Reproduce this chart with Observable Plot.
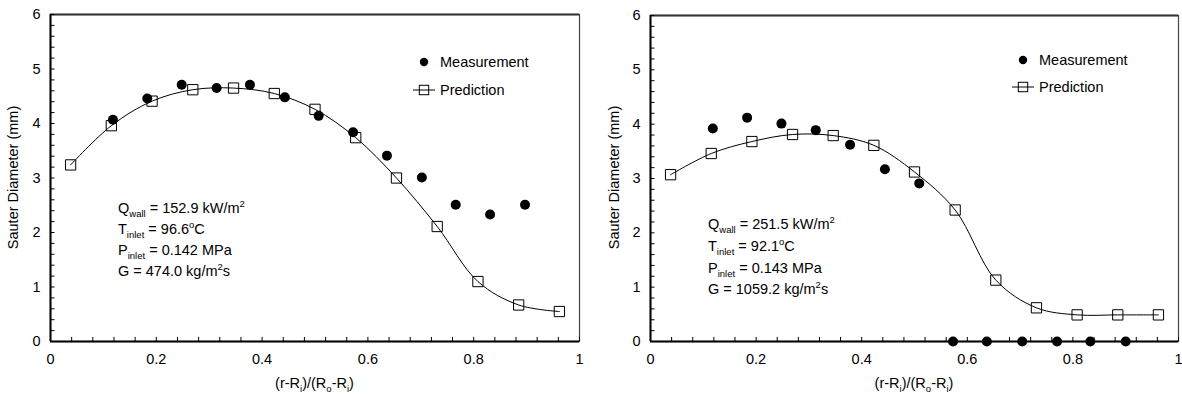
<!DOCTYPE html>
<html>
<head>
<meta charset="utf-8">
<script src="https://cdn.jsdelivr.net/npm/d3@7"></script>
<script src="https://cdn.jsdelivr.net/npm/@observablehq/plot@0.6"></script>
<style>
  html, body { margin: 0; padding: 0; background: white; }
  #wrap { display: flex; width: 1182px; height: 398px; }
  svg text { font-family: "Liberation Sans", Arial, sans-serif; }
</style>
</head>
<body>
<div id="wrap"></div>
<script>
// ---- data ----
const xMajor = [0, 0.2, 0.4, 0.6, 0.8, 1];
const xMinor = [0,0.04,0.08,0.12,0.16,0.2,0.24,0.28,0.32,0.36,0.4,0.44,0.48,0.52,0.56,0.6,0.64,0.68,0.72,0.76,0.8,0.84,0.88,0.92,0.96,1];
const yMajor = [0, 1, 2, 3, 4, 5, 6];
const yMinor = [0,0.2,0.4,0.6,0.8,1,1.2,1.4,1.6,1.8,2,2.2,2.4,2.6,2.8,3,3.2,3.4,3.6,3.8,4,4.2,4.4,4.6,4.8,5,5.2,5.4,5.6,5.8,6];

const predX = [0.038, 0.115, 0.192, 0.269, 0.346, 0.423, 0.500, 0.577, 0.654, 0.731, 0.808, 0.885, 0.962];

const leftPredY = [3.24, 3.96, 4.41, 4.62, 4.65, 4.55, 4.26, 3.74, 3.00, 2.11, 1.10, 0.67, 0.55];
const leftMeasX = [0.118, 0.183, 0.248, 0.314, 0.377, 0.443, 0.507, 0.572, 0.636, 0.702, 0.766, 0.831, 0.897];
const leftMeasY = [4.07, 4.46, 4.71, 4.65, 4.71, 4.48, 4.14, 3.84, 3.41, 3.01, 2.51, 2.33, 2.51];

const rightPredY = [3.07, 3.46, 3.68, 3.81, 3.79, 3.61, 3.12, 2.42, 1.13, 0.62, 0.49, 0.49, 0.49];
const rightMeasX = [0.118, 0.183, 0.248, 0.313, 0.378, 0.444, 0.509, 0.573, 0.637, 0.704, 0.770, 0.833, 0.900];
const rightMeasY = [3.92, 4.12, 4.01, 3.89, 3.62, 3.17, 2.91, 0, 0, 0, 0, 0, 0];

const leftAnn = [
  [["Q", 0], ["wall", 1], [" = 152.9 kW/m", 0], ["2", 2]],
  [["T", 0], ["inlet", 1], [" = 96.6", 0], ["o", 2], ["C", 0]],
  [["P", 0], ["inlet", 1], [" = 0.142 MPa", 0]],
  [["G = 474.0 kg/m", 0], ["2", 2], ["s", 0]]
];
const rightAnn = [
  [["Q", 0], ["wall", 1], [" = 251.5 kW/m", 0], ["2", 2]],
  [["T", 0], ["inlet", 1], [" = 92.1", 0], ["o", 2], ["C", 0]],
  [["P", 0], ["inlet", 1], [" = 0.143 MPa", 0]],
  [["G = 1059.2 kg/m", 0], ["2", 2], ["s", 0]]
];
const legendLabels = ["Measurement", "Prediction"];
const yLabel = "Sauter Diameter (mm)";
const xLabelParts = [["(r-R", 0], ["i", 1], [")/(R", 0], ["o", 1], ["-R", 0], ["i", 1], [")", 0]];

const FS = 14.5;

function richText(sel, parts) {
  let shift = 0;
  parts.forEach(([t, kind]) => {
    const ts = sel.append("tspan").text(t);
    let target = 0, size = FS;
    if (kind === 1) { target = 4; size = 9.5; }
    if (kind === 2) { target = -6; size = 9.5; }
    ts.attr("dy", target - shift).attr("font-size", size);
    shift = target;
  });
}

function makeChart(cfg) {
  const meas = cfg.measX.map((x, i) => ({x, y: cfg.measY[i]}));
  const pred = predX.map((x, i) => ({x, y: cfg.predY[i]}));
  const plot = Plot.plot({
    width: 591, height: 398,
    marginLeft: cfg.ml, marginRight: cfg.mr, marginTop: cfg.mt, marginBottom: 57,
    x: {domain: [0, 1], label: null},
    y: {domain: [0, 6], label: null},
    style: {fontFamily: "Liberation Sans, Arial, sans-serif", fontSize: FS + "px", color: "black", background: "white", overflow: "visible"},
    marks: [
      Plot.frame({stroke: "#444", strokeWidth: 1.2}),
      Plot.ruleY([6], {stroke: "#333", strokeWidth: 2}),
      // inside tick marks
      Plot.ruleX(xMinor, {x: d => d, y1: 0, y2: 0.075, stroke: "black", strokeWidth: 1}),
      Plot.ruleY(yMinor, {y: d => d, x1: 0, x2: 0.0085, stroke: "black", strokeWidth: 1}),
      Plot.axisX({ticks: xMajor, tickSize: 0, tickPadding: 12, tickFormat: d => (d === 0 || d === 1) ? String(d) : d.toFixed(1), label: null, fill: "black"}),
      Plot.axisY({ticks: yMajor, tickSize: 0, tickPadding: 10, tickFormat: d => String(d), label: null, fill: "black"}),
      Plot.ruleY([0], {stroke: "black", strokeWidth: 2}),
      Plot.ruleX([0], {stroke: "black", strokeWidth: 2}),
      Plot.line(pred, {x: "x", y: "y", curve: "catmull-rom", stroke: "black", strokeWidth: 1}),
      Plot.dot(pred, {x: "x", y: "y", symbol: "square", r: 5.8, stroke: "black", fill: "none", strokeWidth: 1}),
      Plot.dot(meas, {x: "x", y: "y", r: 5, fill: "black", stroke: "none"})
    ]
  });
  const svg = d3.select(plot);
  // y label
  svg.append("text").attr("transform", `translate(${cfg.ylx},177.5) rotate(-90)`)
    .attr("text-anchor", "middle").attr("dominant-baseline", "middle")
    .attr("font-size", FS).attr("fill", "black").text(yLabel);
  // x label
  const xl = svg.append("text").attr("x", cfg.ml + (591 - cfg.ml - cfg.mr) / 2).attr("y", 388)
    .attr("text-anchor", "middle").attr("font-size", FS).attr("fill", "black");
  richText(xl, xLabelParts);
  // annotations
  cfg.ann.forEach((parts, i) => {
    const t = svg.append("text").attr("x", cfg.annX).attr("y", cfg.annY[i])
      .attr("text-anchor", "start").attr("font-size", FS).attr("fill", "black");
    richText(t, parts);
  });
  // legend
  const L = cfg.leg;
  svg.append("circle").attr("cx", L.x).attr("cy", L.y1).attr("r", 4.2).attr("fill", "black");
  svg.append("text").attr("x", L.x + 16).attr("y", L.y1 + 5).attr("text-anchor", "start")
    .attr("font-size", FS).attr("fill", "black").text(legendLabels[0]);
  svg.append("line").attr("x1", L.x - 11).attr("x2", L.x + 11).attr("y1", L.y2).attr("y2", L.y2).attr("stroke", "black").attr("stroke-width", 1);
  svg.append("rect").attr("x", L.x - 4.7).attr("y", L.y2 - 4.7).attr("width", 9.4).attr("height", 9.4).attr("fill", "none").attr("stroke", "black");
  svg.append("text").attr("x", L.x + 16).attr("y", L.y2 + 5).attr("text-anchor", "start")
    .attr("font-size", FS).attr("fill", "black").text(legendLabels[1]);
  return plot;
}

const wrap = document.getElementById("wrap");
wrap.appendChild(makeChart({
  measX: leftMeasX, measY: leftMeasY, predY: leftPredY,
  ml: 50, mr: 12, mt: 14, ylx: 14,
  ann: leftAnn, annX: 118, annY: [213, 234, 255, 276],
  leg: {x: 424, y1: 62, y2: 90}
}));
wrap.appendChild(makeChart({
  measX: rightMeasX, measY: rightMeasY, predY: rightPredY,
  ml: 59, mr: 4, mt: 15, ylx: 24,
  ann: rightAnn, annX: 117, annY: [229, 251, 273, 294],
  leg: {x: 432, y1: 60, y2: 87}
}));
</script>
</body>
</html>
